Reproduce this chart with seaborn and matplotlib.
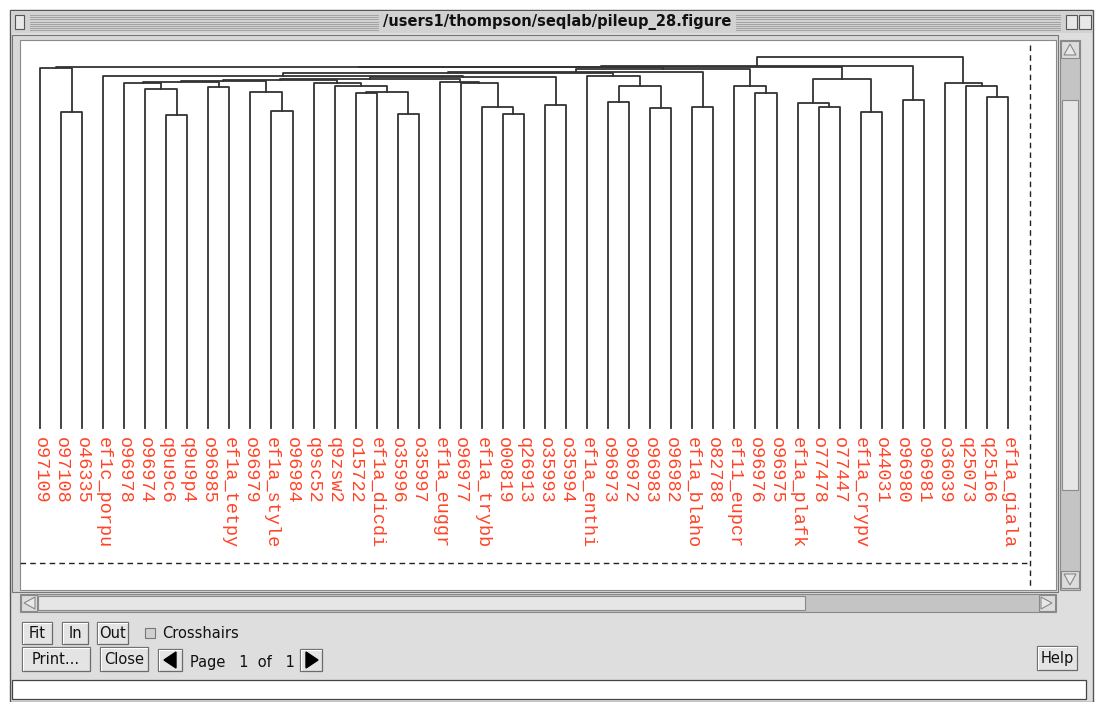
import numpy as np
import pandas as pd
import matplotlib
matplotlib.use("Agg")
import matplotlib.pyplot as plt
import seaborn as sns
from matplotlib.patches import Rectangle, Polygon

# ---------------- data ----------------
leaves = ["o97109", "o97108", "o46335", "ef1c_porpu", "o96978", "o96974",
          "q9u9c6", "q9u9p4", "o96985", "ef1a_tetpy", "o96979", "ef1a_style",
          "o96984", "q9sc52", "q9zsw2", "o15722", "ef1a_dicdi", "o35996",
          "o35997", "ef1a_euggr", "o96977", "ef1a_trybb", "o00819", "q26913",
          "o35993", "o35994", "ef1a_enthi", "o96973", "o96972", "o96983",
          "o96982", "ef1a_blaho", "o82788", "ef11_eupcr", "o96976", "o96975",
          "ef1a_plafk", "o77478", "o77447", "ef1a_crypv", "o44031", "o96980",
          "o96981", "o36039", "q25073", "q25166", "ef1a_giala"]

node_names = ["c%d" % i for i in range(1, 47)]
left_child = ["o97108", "o97109", "q9u9c6", "o96974", "o96978", "o96985",
              "c5", "ef1a_style", "o96979", "c7", "o15722", "o35996", "c11",
              "q9zsw2", "q9sc52", "c10", "o00819", "ef1a_trybb", "o96977",
              "ef1a_euggr", "c16", "o35993", "c21", "ef1c_porpu", "o96973",
              "o96983", "c25", "ef1a_enthi", "c24", "ef1a_blaho", "c29",
              "o96976", "ef11_eupcr", "c31", "c2", "o77478", "ef1a_plafk",
              "ef1a_crypv", "c37", "c35", "o96980", "c40", "q25166", "q25073",
              "o36039", "c42"]
right_child = ["o46335", "c1", "q9u9p4", "c3", "c4", "ef1a_tetpy", "c6",
               "o96984", "c8", "c9", "ef1a_dicdi", "o35997", "c12", "c13",
               "c14", "c15", "q26913", "c17", "c18", "c19", "c20", "o35994",
               "c22", "c23", "o96972", "o96982", "c26", "c27", "c28", "o82788",
               "c30", "o96975", "c32", "c33", "c34", "o77447", "c36", "o44031",
               "c38", "c39", "o96981", "c41", "ef1a_giala", "c43", "c44", "c45"]
merge_height = [316, 360, 313, 339, 345, 341, 346, 317, 336, 347, 335, 314,
                336, 342, 345, 348, 314, 321, 345, 346, 349, 323, 351, 352,
                326, 320, 342, 352, 355, 321, 356, 335, 342, 359, 361, 321,
                325, 316, 349, 361.5, 328, 362, 331, 342, 345, 371]

title_text = "/users1/thompson/seqlab/pileup_28.figure"

# ---------------- figure ----------------
W, H = 1102, 702
fig = plt.figure(figsize=(W / 100, H / 100), dpi=100)
fig.patch.set_facecolor("white")
ui_font = ["Liberation Sans Narrow", "DejaVu Sans"]

bg = fig.add_axes([0, 0, 1, 1], zorder=0)
bg.set_xlim(0, W)
bg.set_ylim(H, 0)
bg.axis("off")

def rect(x0, y0, x1, y1, fc, ec="none", lw=1.0, z=1):
    bg.add_patch(Rectangle((x0, y0), x1 - x0, y1 - y0, facecolor=fc,
                           edgecolor=ec, linewidth=lw, zorder=z))

def button(x0, y0, x1, y1, label=None, fs=10.5):
    rect(x0, y0, x1, y1, "#e4e4e4", "#6a6a6a", 0.9, 3)
    bg.plot([x0 + 1, x1 - 1], [y0 + 1, y0 + 1], color="white", lw=0.8, zorder=4)
    bg.plot([x0 + 1, x0 + 1], [y0 + 1, y1 - 1], color="white", lw=0.8, zorder=4)
    if label:
        bg.text((x0 + x1) / 2, (y0 + y1) / 2 + 1, label, ha="center", va="center",
                fontsize=fs, family=ui_font, color="#111111", zorder=5)

# window
rect(10, 10, 1093, 702, "#dedede", "#555555", 1.0, 1)
# title bar
rect(11, 11, 1092, 33, "#d2d2d2", "none", 0, 2)
for yy in np.arange(15, 31, 2.2):
    bg.plot([30, 378], [yy, yy], color="#9a9a9a", lw=0.6, zorder=3)
    bg.plot([736, 1060], [yy, yy], color="#9a9a9a", lw=0.6, zorder=3)
rect(15, 15, 24, 29, "#e8e8e8", "#555555", 0.8, 3)
rect(1066, 15, 1077, 29, "#e8e8e8", "#555555", 0.8, 3)
rect(1079, 15, 1091, 29, "#e8e8e8", "#555555", 0.8, 3)
bg.text(557, 22, title_text, ha="center", va="center", fontsize=10.5,
        family=ui_font, fontweight="bold", color="#111111", zorder=4)

# canvas
rect(12, 35, 1058, 592, "#d8d8d8", "#777777", 0.8, 2)
rect(20, 40, 1056, 590, "white", "#8a8a8a", 0.8, 2)
bg.plot([1030, 1030], [45, 586], color="#222222", lw=1.0, ls=(0, (4, 3)), zorder=3)
bg.plot([20, 1030], [563, 563], color="#222222", lw=1.0, ls=(0, (4, 3)), zorder=3)

# vertical scrollbar
rect(1060, 40, 1080, 590, "#c4c4c4", "#888888", 0.8, 2)
rect(1062, 100, 1078, 490, "#e6e6e6", "#8a8a8a", 0.8, 3)
rect(1061, 41, 1079, 58, "#dcdcdc", "#8a8a8a", 0.8, 3)
rect(1061, 571, 1079, 588, "#dcdcdc", "#8a8a8a", 0.8, 3)
bg.add_patch(Polygon([[1064, 55], [1070, 44], [1076, 55]], closed=True,
                     facecolor="#e8e8e8", edgecolor="#888888", lw=0.8, zorder=4))
bg.add_patch(Polygon([[1064, 574], [1070, 585], [1076, 574]], closed=True,
                     facecolor="#e8e8e8", edgecolor="#888888", lw=0.8, zorder=4))

# horizontal scrollbar
rect(20, 594, 1056, 612, "#c4c4c4", "#888888", 0.8, 2)
rect(38, 596, 805, 610, "#e6e6e6", "#8a8a8a", 0.8, 3)
rect(21, 595, 37, 611, "#dcdcdc", "#8a8a8a", 0.8, 3)
rect(1039, 595, 1055, 611, "#dcdcdc", "#8a8a8a", 0.8, 3)
bg.add_patch(Polygon([[35, 597], [24, 603], [35, 609]], closed=True,
                     facecolor="#e8e8e8", edgecolor="#888888", lw=0.8, zorder=4))
bg.add_patch(Polygon([[1041, 597], [1052, 603], [1041, 609]], closed=True,
                     facecolor="#e8e8e8", edgecolor="#888888", lw=0.8, zorder=4))

# controls
button(22, 622, 52, 644, "Fit")
button(62, 622, 88, 644, "In")
button(97, 622, 128, 644, "Out")
rect(145, 628, 155, 638, "#d0d0d0", "#777777", 0.8, 3)
bg.text(162, 633, "Crosshairs", ha="left", va="center", fontsize=10.5,
        family=ui_font, color="#111111", zorder=5)
button(22, 647, 90, 671, "Print...")
button(100, 647, 148, 671, "Close")
button(158, 649, 182, 671)
bg.add_patch(Polygon([[176, 652], [164, 660], [176, 668]], closed=True,
                     facecolor="black", edgecolor="black", zorder=6))
bg.text(190, 662, "Page   1  of   1", ha="left", va="center", fontsize=10.5,
        family=ui_font, color="#111111", zorder=5)
button(300, 649, 322, 671)
bg.add_patch(Polygon([[306, 652], [318, 660], [306, 668]], closed=True,
                     facecolor="black", edgecolor="black", zorder=6))
button(1037, 646, 1077, 670, "Help")
rect(12, 680, 1086, 699, "white", "#444444", 0.9, 2)

# ---------------- dendrogram ----------------
pos = {name: float(i) for i, name in enumerate(leaves)}
hgt = {name: 0.0 for name in leaves}
rows = []
for name, a, b, h in zip(node_names, left_child, right_child, merge_height):
    pos[name] = (pos[a] + pos[b]) / 2.0
    hgt[name] = float(h)
    pts = [(pos[a], hgt[a]), (pos[a], h), (pos[b], h), (pos[b], hgt[b])]
    for k, (x, y) in enumerate(pts):
        rows.append({"node": name, "order": k, "x": x, "y": y})
segs = pd.DataFrame(rows)

ax_l, ax_r, ax_t, ax_b = 20, 1030, 40, 563
ax = fig.add_axes([ax_l / W, 1 - ax_b / H, (ax_r - ax_l) / W, (ax_b - ax_t) / H],
                  zorder=2)
ax.patch.set_alpha(0)
sns.lineplot(data=segs, x="x", y="y", units="node", estimator=None, sort=False,
             color="#333333", linewidth=1.3, ax=ax, legend=False)

scale = (1008 - 40) / (len(leaves) - 1)
ax.set_xlim(0 - (40 - ax_l) / scale, (len(leaves) - 1) + (ax_r - 1008) / scale)
base = 428
ax.set_ylim(base - ax_b, base - ax_t)
ax.axis("off")

for i, name in enumerate(leaves):
    ax.text(i, -9, name, rotation=270, ha="center", va="top",
            fontsize=13.3, family=["Liberation Mono", "DejaVu Sans Mono"],
            color="#ff4428", clip_on=False)

fig.savefig("out.png", dpi=100)
